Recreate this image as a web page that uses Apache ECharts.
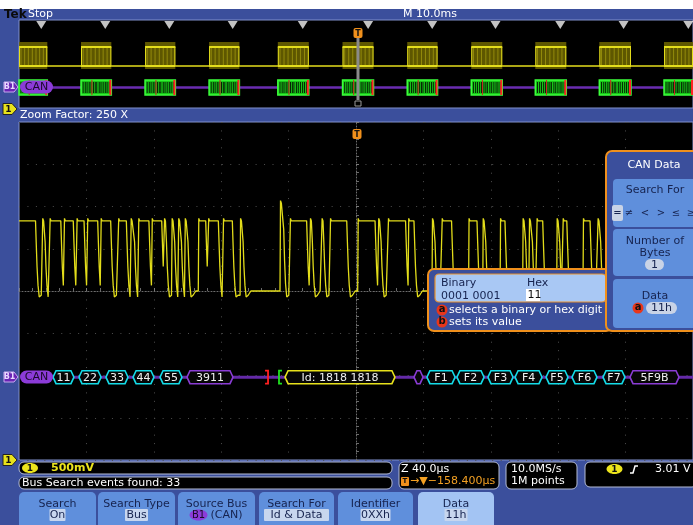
<!DOCTYPE html>
<html><head><meta charset="utf-8">
<script src="https://cdn.jsdelivr.net/npm/echarts@6/dist/echarts.min.js"></script>
<style>html,body{margin:0;padding:0;background:#fff;}#c{width:693px;height:525px;}</style>
</head><body><div id="c"></div>
<script>
// ---------- DATA ----------
// Overview (M 10.0ms/div -> 0..100 ms): CAN frame windows (ms)
const overviewFrames = [[0,4.2],[9.2,13.7],[18.7,23.2],[28.2,32.7],[38.4,43.0],[48.0,52.6],[57.6,62.1],[67.1,71.7],[76.6,81.2],[86.1,90.8],[95.7,100]];
// Search event marks (ms)
const searchMarks = [3.3,12.8,22.3,31.7,42.1,51.8,61.3,70.7,80.3,89.7,99.3];
const overviewTrigger = 50.3;
// Zoomed window (Z 40.0us/div, relative to trigger, us): high pulses [rise, fall]
const pulses = [
 [-200,-190.2],[-186.2,-184.9],[-181.8,-175.2],[-173.3,-167.8],[-165.8,-161.4],[-159.5,-153.3],
 [-151.5,-145.6],[-141.1,-136.3],[-133.7,-131.8],[-129.2,-122.9],[-121.2,-115.3],[-113.9,-112.9],
 [-109.4,-108.0],[-105.5,-104.0],[-101.6,-100.1],[-93.6,-89.2],[-87.7,-81.7],[-78.9,-73.4],[-68.8,-67.4],
 [-39.2,-29.3],[-27.3,-26.3],[-20.4,-19.5],[-15.4,-5.5],[1.0,11.3],[13.2,14.5],[19.0,29.4],[31.0,34.4],
 [45.1,46.5],[50.9,56.7],[66.8,71.8],[75.2,76.6],[85.5,88.4],[98.9,100.3],[102.7,104.3],[107.2,110.8],
 [119.1,120.5],[122.7,125.1],[134.7,138.9],[143.4,144.8]
];
const highLevel = 0.83;     // V above the low level
const spikePulse = [-45.1,-43.3];
const spikeLevel = 1.04;
// Decoded bus fields (us): [start, end, label, kind]
const busFields = [
 [-179.8,-167.4,'11','data'],[-164.4,-151.3,'22','data'],[-148.4,-135.3,'33','data'],
 [-132.3,-119.9,'44','data'],[-116.3,-103.3,'55','data'],[-100.3,-73.0,'3911','crc'],
 [-42.1,23.1,'Id: 1818 1818','id'],[34.4,39.8,'','crc'],
 [42.1,58.8,'F1','data'],[59.9,76.0,'F2','data'],[78.3,93.2,'F3','data'],[94.4,110.4,'F4','data'],
 [112.8,125.8,'F5','data'],[128.2,143.0,'F6','data'],[146.6,159.6,'F7','data'],[162.6,191.7,'5F9B','crc']
];
const frameMarks = [[-52.2,'end'],[-45.7,'start']];
const busLevel = -1.02;
const softkeys = [['Search','On'],['Search Type','Bus'],['Source Bus','(CAN)'],['Search For','Id & Data'],['Identifier','0XXh'],['Data','11h']];

// ---------- STYLE ----------
const BLUE='#3b4f9c', BTN='#5f8fdc', BTN_SEL='#a3c4f3', NAVY='#16234f', ORANGE='#f0901c';
const YEL='#e4de1c', FONT='"DejaVu Sans", sans-serif';
const busColors = {data:'#14dce8', crc:'#8a3cd4', id:'#e8e21c'};
const fallShape = [[0.4,0.7],[0.9,0.35],[1.5,0.08],[2.2,-0.07],[3.4,-0.05],[5,0]];
const stripeFr = [0.07,0.14,0.2,0.27,0.33,0.41,0.47,0.52,0.6,0.66,0.73,0.8,0.86,0.93];

function buildWave(){
  const list = pulses.map(p=>[p[0],p[1],highLevel]);
  list.push([spikePulse[0],spikePulse[1],spikeLevel]);
  list.sort((a,b)=>a[0]-b[0]);
  const pts=[];
  list.forEach((p,i)=>{
    const a=p[0], b=p[1], h=p[2];
    const next = i+1<list.length ? list[i+1][0] : Infinity;
    if (a<=-200) pts.push([a,h]);
    else { pts.push([a, pts.length?pts[pts.length-1][1]:0]); pts.push([a+0.3,h+0.03]); pts.push([a+0.8,h]); }
    pts.push([b,h]);
    fallShape.forEach(d=>{ const x=b+d[0]; if (x<next-0.05) pts.push([x, d[1]>0? d[1]*h : d[1]]); });
  });
  pts.push([200,0]);
  return pts;
}

function R(x,y,w,h,fill,o){ o=o||{}; return {type:'rect', shape:{x:x,y:y,width:w,height:h,r:o.r||0}, style:{fill:fill, stroke:o.stroke||null, lineWidth:o.lw||1}, z:o.z||100}; }
function T(x,y,text,o){ o=o||{}; return {type:'text', x:x, y:y, style:{text:text, fill:o.fill||'#fff', font:(o.weight||'normal')+' '+(o.size||11)+'px '+FONT, textAlign:o.align||'left', textVerticalAlign:'middle', align:o.align||'left', verticalAlign:'middle'}, z:o.z||102}; }
function P(points,fill,o){ o=o||{}; return {type:'polygon', shape:{points:points}, style:{fill:fill, stroke:o.stroke||null, lineWidth:o.lw||1}, z:o.z||100}; }
function L(points,stroke,o){ o=o||{}; return {type:'polyline', shape:{points:points}, style:{stroke:stroke, lineWidth:o.lw||1, fill:null}, z:o.z||101}; }
function Cc(cx,cy,r,fill,o){ o=o||{}; return {type:'circle', shape:{cx:cx,cy:cy,r:r}, style:{fill:fill}, z:o.z||101}; }
function E(cx,cy,rx,ry,fill,o){ o=o||{}; return {type:'ellipse', shape:{cx:cx,cy:cy,rx:rx,ry:ry}, style:{fill:fill, stroke:o.stroke||null}, z:o.z||101}; }

const g = [];
// top strip + header
g.push(R(0,0,693,9,'#ffffff',{z:1}));
g.push(T(4,14.5,'Tek',{fill:'#0a0a0a',weight:'bold',size:12}));
g.push(T(28,14.5,'Stop'));
g.push(T(403,14.5,'M 10.0ms'));
g.push(T(20,115.5,'Zoom Factor: 250 X'));
// left tags
function tagB1(y){ g.push(P([[4,y-5],[14,y-5],[18,y],[14,y+5],[4,y+5]],'#6a24b4',{stroke:'#c9a8f0'})); g.push(T(9.5,y,'B1',{size:8,weight:'bold',align:'center',fill:'#e8d8ff'})); }
function tag1(y){ g.push(P([[3,y-5.5],[12,y-5.5],[17,y],[12,y+5.5],[3,y+5.5]],'#e8e21c',{stroke:'#222'})); g.push(T(8.5,y+0.5,'1',{size:9,weight:'bold',align:'center',fill:'#111'})); }
tagB1(87); tag1(109); tagB1(377); tag1(460);
// CAN pills
function canPill(y){ g.push(R(20,y-6.5,33,13,'#8c3bd8',{r:6.5,z:110})); g.push(T(36.5,y+0.5,'CAN',{align:'center',fill:'#1a0a2a',size:11,z:111})); }
canPill(87); canPill(377);
// trigger markers
function trig(x,y){ g.push(R(x-4.5,y-5,9,10,ORANGE,{r:2,z:112})); g.push(T(x,y+0.5,'T',{size:8,weight:'bold',align:'center',fill:'#111',z:113})); }
g.push(L([[358,38],[358,100]],'#8a8a8a',{lw:3,z:105}));
g.push({type:'rect',shape:{x:355,y:101,width:6,height:5},style:{fill:null,stroke:'#9a9a9a',lineWidth:1},z:105});
trig(358,33); trig(357,134);

// status boxes
const SB='#b4bcd6';
g.push(R(19,462,373,12,'#000',{r:5,stroke:SB}));
g.push(R(19,477,373,12,'#000',{r:5,stroke:SB}));
g.push(E(30,468,8,5,'#ece41c'));
g.push(T(30,468.5,'1',{size:9,weight:'bold',align:'center',fill:'#111'}));
g.push(T(51,468.5,'500mV',{fill:'#ece41c',weight:'bold',size:11}));
g.push(T(22,483.5,'Bus Search events found: 33',{size:11}));
g.push(R(399,462,100,27,'#000',{r:5,stroke:SB}));
g.push(T(401,469.5,'Z 40.0µs',{size:11}));
g.push(R(401,477,8,9,ORANGE,{r:1}));
g.push(T(405,481.5,'T',{size:7,weight:'bold',align:'center',fill:'#111',z:103}));
g.push(T(410,481.5,'→▼−158.400µs',{fill:'#f3a023',size:11}));
g.push(R(506,462,71,27,'#000',{r:5,stroke:SB}));
g.push(T(511,469.5,'10.0MS/s',{size:11}));
g.push(T(511,481.5,'1M points',{size:11}));
g.push(R(585,462,112,25,'#000',{r:5,stroke:SB}));
g.push(E(614.5,469,8,5,'#ece41c'));
g.push(T(614.5,469.5,'1',{size:9,weight:'bold',align:'center',fill:'#111'}));
g.push(L([[630,473],[633,473],[635,466],[638,466]],'#ffffff',{lw:1.5}));
g.push(T(655,469.5,'3.01 V',{size:11}));

// softkeys
const keyX = [[19,96],[98,175],[178,255],[259,334],[338,413],[418,494]];
softkeys.forEach((k,i)=>{
  const x0=keyX[i][0], x1=keyX[i][1], cx=(x0+x1)/2, sel = (i===5);
  g.push(R(x0,492,x1-x0,40,sel?BTN_SEL:BTN,{r:[5,5,0,0]}));
  g.push(T(cx,504,k[0],{fill:NAVY,align:'center',size:11}));
  if (i===2){
    g.push(E(cx-18,515,9,5.5,'#8c3bd8'));
    g.push(T(cx-18,515.5,'B1',{fill:'#1a0a2a',size:10,align:'center'}));
    g.push(T(cx+10,515.5,k[1],{fill:NAVY,align:'center',size:11}));
  } else {
    const w = k[1].length*7+2;
    g.push(R(cx-w/2,509,w,12,'#c8d6ee',{r:1,z:101}));
    g.push(T(cx,515.5,k[1],{fill:NAVY,align:'center',size:11}));
  }
});

// Binary popup
g.push(R(428,269,184,62,BLUE,{r:6,stroke:ORANGE,lw:2,z:120}));
g.push(R(435,274,171,28,'#a9c8f4',{r:4,stroke:'#e8902c',lw:1.2,z:121}));
g.push(T(441,283,'Binary',{fill:NAVY,z:123}));
g.push(T(527,283,'Hex',{fill:NAVY,z:123}));
g.push(T(441,296,'0001 0001',{fill:NAVY,z:123}));
g.push(R(526,289,14,12,'#ffffff',{z:122}));
g.push(T(527.5,295.5,'11',{fill:'#111',z:123}));
g.push(Cc(442,310,5.5,'#e8361a',{z:122}));
g.push(T(442,309.5,'a',{fill:'#111',align:'center',weight:'bold',size:10,z:123}));
g.push(T(449,310,'selects a binary or hex digit',{z:123}));
g.push(Cc(442,322,5.5,'#e8361a',{z:122}));
g.push(T(442,321.5,'b',{fill:'#111',align:'center',weight:'bold',size:10,z:123}));
g.push(T(449,322,'sets its value',{z:123}));

// CAN Data side panel
g.push(R(606,151,100,180,BLUE,{r:6,stroke:ORANGE,lw:2,z:124}));
g.push(T(654,165.5,'CAN Data',{align:'center',z:127}));
g.push(R(613,179,90,48,BTN,{r:4,z:125}));
g.push(T(655,190.5,'Search For',{fill:NAVY,align:'center',z:127}));
g.push(R(612,205,11,16,'#c9d3e6',{r:2,z:126}));
[['=',617.5],['≠',629],['<',645],['>',661],['≤',676],['≥',691]].forEach(s=>g.push(T(s[1],213.5,s[0],{fill:NAVY,align:'center',size:10,z:127})));
g.push(R(613,229,90,47,BTN,{r:4,z:125}));
g.push(T(655,241.5,'Number of',{fill:NAVY,align:'center',z:127}));
g.push(T(655,253.5,'Bytes',{fill:NAVY,align:'center',z:127}));
g.push(R(645,259,19,11,'#c9d3e6',{r:5.5,z:126}));
g.push(T(654.5,265,'1',{fill:NAVY,align:'center',z:127}));
g.push(R(613,279,90,49,BTN,{r:4,z:125}));
g.push(T(655,296.5,'Data',{fill:NAVY,align:'center',z:127}));
g.push(Cc(638,308,5.5,'#e8361a',{z:126}));
g.push(T(638,307.5,'a',{fill:'#111',align:'center',weight:'bold',size:10,z:127}));
g.push(R(646,302,31,12,'#c9d3e6',{r:6,z:126}));
g.push(T(661.5,308.5,'11h',{fill:NAVY,align:'center',z:127}));

// ---------- CHART ----------
const chart = echarts.init(document.getElementById('c'), null, {renderer:'canvas'});
const dotGrid = {show:true, lineStyle:{color:'#4e4e4e', width:1, type:[1,7.45]}};
const axisL = {show:true, onZero:true, lineStyle:{color:'#6c6c6c', width:1, type:[1,2]}};
const tick = {show:true, inside:true, length:3, lineStyle:{color:'#7a7a7a'}};
const minor = {show:true, splitNumber:5, length:3, lineStyle:{color:'#6a6a6a'}};

function burstItem(params, api){
  const f = overviewFrames[params.dataIndex];
  const a = api.coord([f[0], 2.4]), b = api.coord([f[1], -0.3]);
  const top = api.coord([f[0], 1.9])[1], base = api.coord([f[0], 0])[1];
  const w = b[0]-a[0];
  const ch = [{type:'rect', shape:{x:a[0], y:a[1], width:w, height:b[1]-a[1]}, style:{fill:'rgba(110,102,0,0.85)'}}];
  stripeFr.forEach((s,k)=>{ if(k%2===0) ch.push({type:'line', shape:{x1:a[0]+s*w, y1:top, x2:a[0]+s*w, y2:base}, style:{stroke:'rgba(190,180,20,0.55)', lineWidth:1}}); });
  ch.push({type:'line', shape:{x1:a[0], y1:top, x2:b[0], y2:top}, style:{stroke:YEL, lineWidth:2}});
  ch.push({type:'line', shape:{x1:a[0], y1:base, x2:b[0], y2:base}, style:{stroke:YEL, lineWidth:2}});
  ch.push({type:'line', shape:{x1:a[0]+0.5, y1:top, x2:a[0]+0.5, y2:base}, style:{stroke:YEL, lineWidth:1}});
  ch.push({type:'line', shape:{x1:b[0]-0.5, y1:top, x2:b[0]-0.5, y2:base}, style:{stroke:YEL, lineWidth:1}});
  return {type:'group', children:ch};
}
function ovBusItem(params, api){
  const f = overviewFrames[params.dataIndex];
  const a = api.coord([f[0], -1.4]), b = api.coord([f[1], -2.9]);
  const w = b[0]-a[0], h=b[1]-a[1];
  const ch = [{type:'rect', shape:{x:a[0], y:a[1], width:w, height:h}, style:{fill:'#18c818', stroke:'#3cff3c', lineWidth:1.5}}];
  stripeFr.forEach(s=>ch.push({type:'line', shape:{x1:a[0]+s*w, y1:a[1]+2, x2:a[0]+s*w, y2:b[1]-2}, style:{stroke:'#062006', lineWidth:1}}));
  ch.push({type:'line', shape:{x1:b[0]-1, y1:a[1], x2:b[0]-1, y2:b[1]}, style:{stroke:'#ff2424', lineWidth:2}});
  ch.push({type:'line', shape:{x1:a[0]+w*0.36, y1:a[1], x2:a[0]+w*0.36, y2:b[1]}, style:{stroke:'#d02424', lineWidth:1}});
  return {type:'group', children:ch};
}
function busItem(params, api){
  const f = busFields[params.dataIndex];
  const p0 = api.coord([f[0], busLevel]), p1 = api.coord([f[1], busLevel]);
  const y=p0[1], h=6.5, c=3, x0=p0[0], x1=p1[0];
  return {type:'group', children:[
    {type:'polygon', shape:{points:[[x0,y],[x0+c,y-h],[x1-c,y-h],[x1,y],[x1-c,y+h],[x0+c,y+h]]}, style:{fill:'#060606', stroke:busColors[f[3]], lineWidth:1.6}},
    {type:'text', style:{text:f[2], x:(x0+x1)/2, y:y+0.5, fill:'#f0f0f0', font:'11px '+FONT, textAlign:'center', textVerticalAlign:'middle', align:'center', verticalAlign:'middle'}}
  ]};
}
function markItem(params, api){
  const m = frameMarks[params.dataIndex];
  const p = api.coord([m[0], busLevel]);
  const d = m[1]==='end' ? -3 : 3;
  return {type:'polyline', shape:{points:[[p[0]+d,p[1]-6.5],[p[0],p[1]-6.5],[p[0],p[1]+6.5],[p[0]+d,p[1]+6.5]]}, style:{stroke: m[1]==='end'?'#ff2020':'#20e020', lineWidth:1.8, fill:null}};
}

const option = {
  backgroundColor: BLUE,
  animation: false,
  grid: [
    {left:19, right:0, top:20, height:88, show:true, backgroundColor:'#000', borderColor:'#8090cc', borderWidth:1},
    {left:19, right:0, top:122, height:338, show:true, backgroundColor:'#000', borderColor:'#8090cc', borderWidth:1}
  ],
  xAxis: [
    {gridIndex:0, type:'value', min:0, max:100, show:false},
    {gridIndex:1, type:'value', min:-200, max:200, interval:40, axisLine:axisL, axisTick:tick, minorTick:minor, axisLabel:{show:false}, splitLine:dotGrid}
  ],
  yAxis: [
    {gridIndex:0, type:'value', min:-4.2, max:4.6, show:false},
    {gridIndex:1, type:'value', min:-2, max:2, interval:0.5, axisLine:axisL, axisTick:tick, minorTick:minor, axisLabel:{show:false}, splitLine:dotGrid}
  ],
  graphic: {elements: g},
  series: [
    {type:'line', xAxisIndex:0, yAxisIndex:0, data:[[0,0],[100,0]], showSymbol:false, lineStyle:{color:YEL, width:1.6}, z:2, silent:true},
    {type:'custom', xAxisIndex:0, yAxisIndex:0, data:overviewFrames, encode:{x:[0,1]}, renderItem:burstItem, z:3, silent:true},
    {type:'line', xAxisIndex:0, yAxisIndex:0, data:[[4.3,-2.15],[100,-2.15]], showSymbol:false, lineStyle:{color:'#6a2cb0', width:2.5}, z:2, silent:true},
    {type:'custom', xAxisIndex:0, yAxisIndex:0, data:overviewFrames, encode:{x:[0,1]}, renderItem:ovBusItem, z:3, silent:true},
    {type:'scatter', xAxisIndex:0, yAxisIndex:0, data:searchMarks.map(m=>[m,4.1]), symbol:'triangle', symbolRotate:180, symbolSize:[10,8], itemStyle:{color:'#f4f4f4'}, z:4, silent:true},
    {type:'line', xAxisIndex:1, yAxisIndex:1, data:buildWave(), showSymbol:false, sampling:null, lineStyle:{color:'#e2dc1a', width:1.3}, z:4, silent:true},
    {type:'line', xAxisIndex:1, yAxisIndex:1, data:[[-180.5,busLevel],[200,busLevel]], showSymbol:false, lineStyle:{color:'#642aa8', width:3}, z:4, silent:true},
    {type:'custom', xAxisIndex:1, yAxisIndex:1, data:busFields.map(f=>[f[0],f[1]]), encode:{x:[0,1]}, renderItem:busItem, z:5, silent:true},
    {type:'custom', xAxisIndex:1, yAxisIndex:1, data:frameMarks.map(m=>[m[0]]), encode:{x:0}, renderItem:markItem, z:5, silent:true}
  ]
};
chart.setOption(option);
</script></body></html>
